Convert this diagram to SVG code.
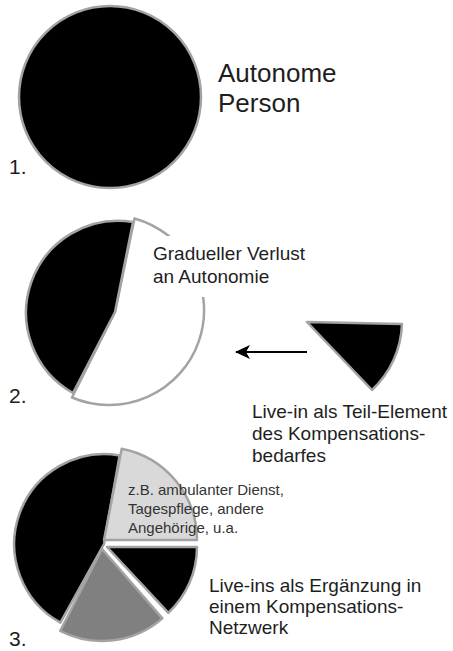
<svg xmlns="http://www.w3.org/2000/svg" width="453" height="651" viewBox="0 0 453 651">
<style>
  .seg { stroke: #a3a3a3; stroke-width: 2.5; stroke-linejoin: round; }
  .blk { fill: #000; }
  .wht { fill: #fff; }
  .lg { fill: #d9d9d9; }
  .mg { fill: #808080; }
  .t { font-family: "Liberation Sans", Arial, sans-serif; fill: #1e1e1e; }
  .big { font-size: 26px; }
  .mid { font-size: 19px; }
  .sm { font-size: 15px; fill: #333; }
  .num { font-size: 21px; }
</style>
<defs>
  <marker id="arrow" markerWidth="16" markerHeight="14" refX="14" refY="7" orient="auto" markerUnits="userSpaceOnUse">
    <path d="M0,0 L15,7 L0,14 L4,7 Z" fill="#000"/>
  </marker>
</defs>

<g id="stage1">
  <circle class="seg blk" cx="110" cy="97" r="91"/>
  <text class="t big" x="218" y="82">Autonome</text>
  <text class="t big" x="218" y="112">Person</text>
  <text class="t num" x="9" y="174">1.</text>
</g>

<g id="stage2">
  <path class="seg wht" d="M134.5,218.5 A95,95 0 1,1 72,397.5 L115,312 Z"/>
  <path class="seg blk" d="M133,222 L115,312 L73,393 A92,92 0 0,1 133,222 Z"/>
  <rect x="150" y="236" width="195" height="61" fill="#fff"/>
  <text class="t mid" x="153" y="260">Gradueller Verlust</text>
  <text class="t mid" x="153" y="283">an Autonomie</text>
  <text class="t num" x="9" y="403">2.</text>
</g>

<g id="live-in-element">
  <path class="seg blk" d="M307,322 L402,324 A95,95 0 0,1 372,390 Z"/>
  <text class="t mid" x="252" y="418">Live-in als Teil-Element</text>
  <text class="t mid" x="252" y="440">des Kompensations-</text>
  <text class="t mid" x="252" y="462">bedarfes</text>
</g>

<g id="connectors">
  <line x1="307" y1="352" x2="236" y2="352" stroke="#000" stroke-width="2" marker-end="url(#arrow)"/>
</g>

<g id="stage3">
  <path class="seg blk" d="M104,544 L119.6,455.4 A90,90 0 0,0 60.4,622.7 Z"/>
  <path class="seg lg" d="M104,540 L121.7,448.7 A93,93 0 0,1 197,540 Z"/>
  <path class="seg blk" d="M107,547 L197,547 A90,90 0 0,1 168.4,612.8 Z"/>
  <path class="seg mg" d="M102,549 L162.4,618.4 A92,92 0 0,1 60.2,631 Z"/>
  <text class="t sm" x="128" y="495">z.B. ambulanter Dienst,</text>
  <text class="t sm" x="128" y="514">Tagespflege, andere</text>
  <text class="t sm" x="128" y="533">Angehörige, u.a.</text>
  <text class="t mid" x="209" y="592">Live-ins als Ergänzung in</text>
  <text class="t mid" x="209" y="613">einem Kompensations-</text>
  <text class="t mid" x="209" y="634">Netzwerk</text>
  <text class="t num" x="9" y="646">3.</text>
</g>
</svg>
